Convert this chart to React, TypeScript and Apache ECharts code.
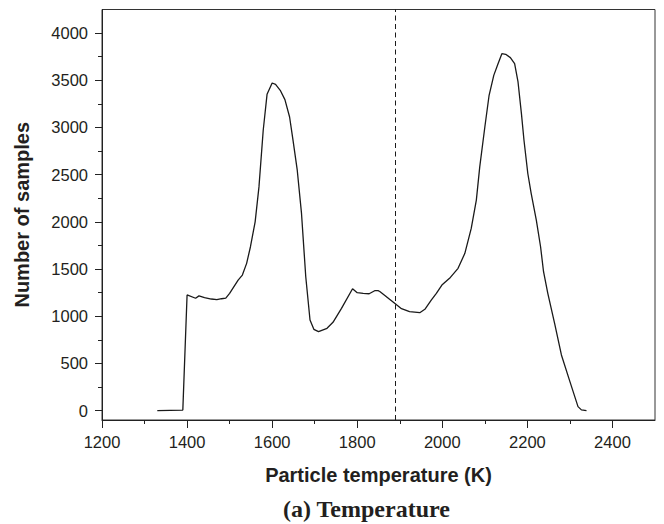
import React, { useEffect, useRef } from "react";
import * as echarts from "echarts";

const temperatures = [
  1330, 1390, 1400, 1420, 1428, 1441, 1457, 1470, 1481, 1491,
  1500, 1520, 1530, 1540, 1549, 1560, 1569, 1579, 1588, 1600,
  1608, 1619, 1630, 1641, 1649, 1659, 1669, 1679, 1689, 1698,
  1709, 1729, 1743, 1763, 1789, 1800, 1814, 1828, 1841, 1849,
  1853, 1865, 1876, 1888, 1904, 1923, 1935, 1947, 1959, 1974,
  1986, 1999, 2019, 2037, 2053, 2068, 2080, 2088, 2100, 2110,
  2121, 2131, 2140, 2149, 2160, 2170, 2178, 2186, 2192, 2201,
  2209, 2221, 2231, 2238, 2248, 2264, 2280, 2300, 2319, 2327,
  2339,
];
const samples = [
  0, 5, 1225, 1190, 1215, 1196, 1182, 1175, 1185, 1192,
  1242, 1383, 1436, 1560, 1736, 2000, 2370, 2970, 3351, 3471,
  3457, 3394, 3295, 3111, 2865, 2547, 2089, 1418, 960, 861,
  836, 872, 935, 1083, 1291, 1249, 1242, 1238, 1270, 1270,
  1262, 1220, 1180, 1136, 1080, 1048, 1044, 1037, 1073, 1171,
  1242, 1330, 1411, 1507, 1666, 1930, 2230, 2582, 3005, 3341,
  3552, 3676, 3782, 3775, 3740, 3676, 3482, 3147, 2865, 2512,
  2300, 2018, 1736, 1471, 1242, 925, 589, 307, 42, 7,
  0,
];
const thresholdTemperature = 1890;
const xMajorTicks = [1200, 1400, 1600, 1800, 2000, 2200, 2400];
const xMinorTicks = [1300, 1500, 1700, 1900, 2100, 2300];
const yMajorTicks = [0, 500, 1000, 1500, 2000, 2500, 3000, 3500, 4000];
const yMinorTicks = [250, 750, 1250, 1750, 2250, 2750, 3250, 3750];

const SANS = "'Liberation Sans', Arial, Helvetica, sans-serif";
const SERIF = "'Liberation Serif', 'Times New Roman', serif";
const INK = "#231f20";

const GRID = { left: 102, right: 9, top: 9.5, bottom: 104 };
const PLOT_W = 664 - GRID.left - GRID.right;
const PLOT_H = 524 - GRID.top - GRID.bottom;

const plain = (v: number) => String(v);

export default function App() {
  const ref = useRef<HTMLDivElement>(null);
  useEffect(() => {
    if (!ref.current) return;
    const chart = echarts.init(ref.current, undefined, { renderer: "svg" });
    const data = temperatures.map((t, i) => [t, samples[i]]);
    chart.setOption({
      animation: false,
      backgroundColor: "#ffffff",
      title: {
        text: "(a) Temperature",
        left: 283,
        top: 497,
        padding: 0,
        textStyle: { fontFamily: SERIF, fontWeight: "bold", fontSize: 24, color: INK },
      },
      grid: {
        ...GRID,
        show: true,
        borderColor: "#333333",
        borderWidth: 1,
        containLabel: false,
        outerBoundsMode: "none",
      },
      xAxis: [
        {
          type: "value",
          min: 1200,
          max: 2500,
          position: "bottom",
          name: "Particle temperature (K)",
          nameLocation: "middle",
          nameGap: 45,
          nameTextStyle: { fontFamily: SANS, fontWeight: "bold", fontSize: 20, color: INK },
          axisLine: { show: true, onZero: false, lineStyle: { color: "#222", width: 1 } },
          axisTick: { show: true, length: 8, customValues: xMajorTicks, lineStyle: { color: "#222" } },
          axisLabel: {
            customValues: xMajorTicks,
            formatter: plain,
            margin: 13,
            fontFamily: SANS,
            fontSize: 16.5,
            color: INK,
          },
          splitLine: { show: false },
        },
        {
          type: "value",
          min: 1200,
          max: 2500,
          position: "top",
          offset: -PLOT_H,
          axisLine: { show: false, onZero: false },
          axisTick: { show: true, inside: true, length: 4, customValues: xMinorTicks, lineStyle: { color: "#222" } },
          axisLabel: { show: false },
          splitLine: { show: false },
        },
      ],
      yAxis: [
        {
          type: "value",
          min: -100,
          max: 4250,
          position: "left",
          name: "Number of samples",
          nameLocation: "middle",
          nameGap: 70,
          nameTextStyle: { fontFamily: SANS, fontWeight: "bold", fontSize: 20, color: INK },
          axisLine: { show: true, onZero: false, lineStyle: { color: "#222", width: 1 } },
          axisTick: { show: true, length: 7, customValues: yMajorTicks, lineStyle: { color: "#222" } },
          axisLabel: {
            customValues: yMajorTicks,
            formatter: plain,
            margin: 14,
            fontFamily: SANS,
            fontSize: 16.5,
            color: INK,
          },
          splitLine: { show: false },
        },
        {
          type: "value",
          min: -100,
          max: 4250,
          position: "right",
          offset: -PLOT_W,
          axisLine: { show: false, onZero: false },
          axisTick: { show: true, inside: true, length: 4, customValues: yMinorTicks, lineStyle: { color: "#222" } },
          axisLabel: { show: false },
          splitLine: { show: false },
        },
      ],
      series: [
        {
          type: "line",
          data,
          showSymbol: false,
          symbol: "none",
          lineStyle: { color: "#1a1a1a", width: 1.3 },
          markLine: {
            silent: true,
            symbol: "none",
            label: { show: false },
            lineStyle: { color: "#1a1a1a", width: 1, type: [5, 3.5] },
            data: [{ xAxis: thresholdTemperature }],
          },
        },
      ],
    });
    return () => chart.dispose();
  }, []);
  return (
    <div
      ref={ref}
      style={{ position: "absolute", left: 0, top: 0, width: 664, height: 524 }}
    />
  );
}
